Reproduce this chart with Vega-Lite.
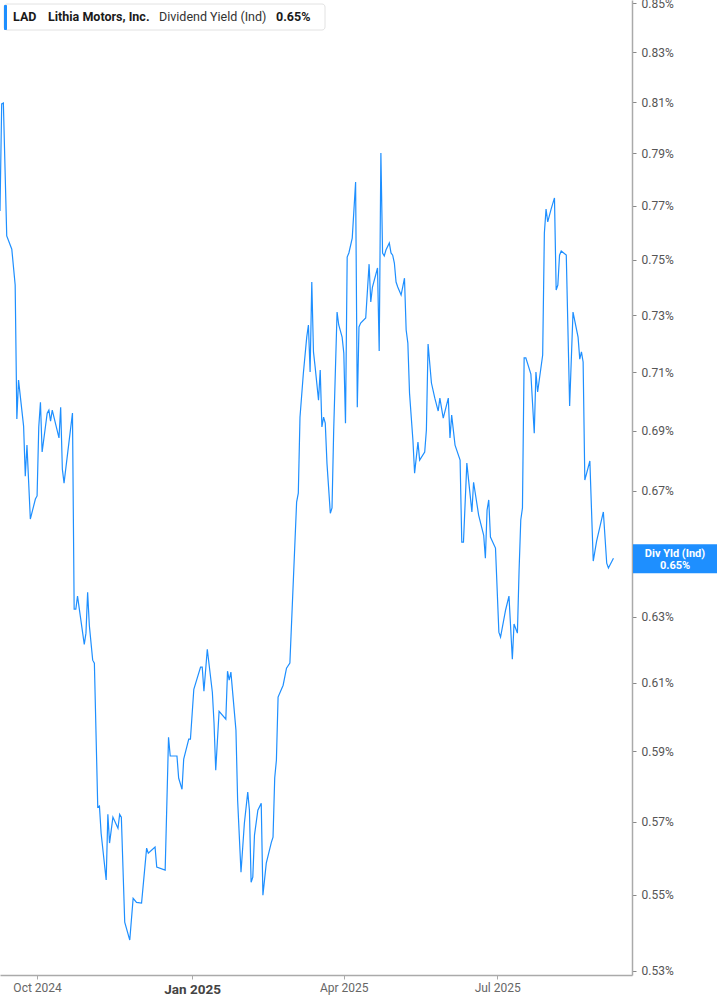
{
  "$schema": "https://vega.github.io/schema/vega-lite/v6.json",
  "width": 632,
  "height": 975,
  "autosize": {"type": "none"},
  "padding": {"left": 0, "top": 0, "right": 85, "bottom": 30},
  "background": "white",
  "config": {"font": "Roboto", "view": {"stroke": null}},
  "datasets": {
    "lad": [
      {"date": "2024-09-09", "yield": 0.7681}, {"date": "2024-09-10", "yield": 0.8093}, {"date": "2024-09-11", "yield": 0.8097},
      {"date": "2024-09-13", "yield": 0.7588}, {"date": "2024-09-16", "yield": 0.7539}, {"date": "2024-09-18", "yield": 0.7408},
      {"date": "2024-09-19", "yield": 0.6939}, {"date": "2024-09-20", "yield": 0.7072}, {"date": "2024-09-23", "yield": 0.6915},
      {"date": "2024-09-24", "yield": 0.6748}, {"date": "2024-09-25", "yield": 0.6851}, {"date": "2024-09-27", "yield": 0.6608},
      {"date": "2024-09-30", "yield": 0.6673}, {"date": "2024-10-01", "yield": 0.6683}, {"date": "2024-10-02", "yield": 0.6912},
      {"date": "2024-10-03", "yield": 0.6996}, {"date": "2024-10-04", "yield": 0.6828}, {"date": "2024-10-07", "yield": 0.6959},
      {"date": "2024-10-08", "yield": 0.6969}, {"date": "2024-10-09", "yield": 0.6932}, {"date": "2024-10-10", "yield": 0.6969},
      {"date": "2024-10-14", "yield": 0.6875}, {"date": "2024-10-15", "yield": 0.6979}, {"date": "2024-10-16", "yield": 0.6771},
      {"date": "2024-10-17", "yield": 0.6725}, {"date": "2024-10-22", "yield": 0.6959}, {"date": "2024-10-23", "yield": 0.6324},
      {"date": "2024-10-24", "yield": 0.6324}, {"date": "2024-10-25", "yield": 0.6364}, {"date": "2024-10-29", "yield": 0.6216},
      {"date": "2024-10-30", "yield": 0.6250}, {"date": "2024-10-31", "yield": 0.6376}, {"date": "2024-11-01", "yield": 0.6274},
      {"date": "2024-11-03", "yield": 0.6168}, {"date": "2024-11-04", "yield": 0.6159}, {"date": "2024-11-06", "yield": 0.5741},
      {"date": "2024-11-07", "yield": 0.5744}, {"date": "2024-11-08", "yield": 0.5668}, {"date": "2024-11-11", "yield": 0.5540},
      {"date": "2024-11-12", "yield": 0.5721}, {"date": "2024-11-13", "yield": 0.5641}, {"date": "2024-11-15", "yield": 0.5713},
      {"date": "2024-11-18", "yield": 0.5682}, {"date": "2024-11-19", "yield": 0.5721}, {"date": "2024-11-20", "yield": 0.5713},
      {"date": "2024-11-22", "yield": 0.5427}, {"date": "2024-11-25", "yield": 0.5380}, {"date": "2024-11-27", "yield": 0.5491},
      {"date": "2024-11-29", "yield": 0.5480}, {"date": "2024-12-02", "yield": 0.5478}, {"date": "2024-12-05", "yield": 0.5627},
      {"date": "2024-12-06", "yield": 0.5613}, {"date": "2024-12-10", "yield": 0.5630}, {"date": "2024-12-11", "yield": 0.5575},
      {"date": "2024-12-16", "yield": 0.5567}, {"date": "2024-12-18", "yield": 0.5940}, {"date": "2024-12-19", "yield": 0.5886},
      {"date": "2024-12-23", "yield": 0.5886}, {"date": "2024-12-24", "yield": 0.5823}, {"date": "2024-12-26", "yield": 0.5791},
      {"date": "2024-12-27", "yield": 0.5877}, {"date": "2024-12-30", "yield": 0.5935}, {"date": "2024-12-31", "yield": 0.5935},
      {"date": "2025-01-02", "yield": 0.6081}, {"date": "2025-01-06", "yield": 0.6147}, {"date": "2025-01-07", "yield": 0.6147},
      {"date": "2025-01-08", "yield": 0.6075}, {"date": "2025-01-10", "yield": 0.6201}, {"date": "2025-01-13", "yield": 0.6072},
      {"date": "2025-01-14", "yield": 0.5981}, {"date": "2025-01-15", "yield": 0.5845}, {"date": "2025-01-17", "yield": 0.6016},
      {"date": "2025-01-21", "yield": 0.5993}, {"date": "2025-01-22", "yield": 0.6135}, {"date": "2025-01-23", "yield": 0.6108},
      {"date": "2025-01-24", "yield": 0.6132}, {"date": "2025-01-27", "yield": 0.5961}, {"date": "2025-01-28", "yield": 0.5760},
      {"date": "2025-01-30", "yield": 0.5561}, {"date": "2025-02-01", "yield": 0.5696}, {"date": "2025-02-03", "yield": 0.5783},
      {"date": "2025-02-04", "yield": 0.5732}, {"date": "2025-02-05", "yield": 0.5534}, {"date": "2025-02-06", "yield": 0.5548},
      {"date": "2025-02-07", "yield": 0.5663}, {"date": "2025-02-09", "yield": 0.5732}, {"date": "2025-02-11", "yield": 0.5752},
      {"date": "2025-02-12", "yield": 0.5499}, {"date": "2025-02-14", "yield": 0.5586}, {"date": "2025-02-17", "yield": 0.5643},
      {"date": "2025-02-18", "yield": 0.5657}, {"date": "2025-02-19", "yield": 0.5823}, {"date": "2025-02-20", "yield": 0.5874},
      {"date": "2025-02-21", "yield": 0.6058}, {"date": "2025-02-24", "yield": 0.6093}, {"date": "2025-02-26", "yield": 0.6144},
      {"date": "2025-02-28", "yield": 0.6159}, {"date": "2025-03-04", "yield": 0.6663}, {"date": "2025-03-05", "yield": 0.6692},
      {"date": "2025-03-06", "yield": 0.6945}, {"date": "2025-03-08", "yield": 0.7096}, {"date": "2025-03-10", "yield": 0.7222},
      {"date": "2025-03-11", "yield": 0.7265}, {"date": "2025-03-12", "yield": 0.7100}, {"date": "2025-03-13", "yield": 0.7419},
      {"date": "2025-03-14", "yield": 0.7170}, {"date": "2025-03-15", "yield": 0.7117}, {"date": "2025-03-17", "yield": 0.7003},
      {"date": "2025-03-18", "yield": 0.7107}, {"date": "2025-03-19", "yield": 0.6912}, {"date": "2025-03-20", "yield": 0.6945},
      {"date": "2025-03-21", "yield": 0.6925}, {"date": "2025-03-22", "yield": 0.6791}, {"date": "2025-03-24", "yield": 0.6627},
      {"date": "2025-03-25", "yield": 0.6644}, {"date": "2025-03-26", "yield": 0.6902}, {"date": "2025-03-28", "yield": 0.7311},
      {"date": "2025-03-29", "yield": 0.7265}, {"date": "2025-03-31", "yield": 0.7222}, {"date": "2025-04-01", "yield": 0.7166},
      {"date": "2025-04-02", "yield": 0.6925}, {"date": "2025-04-03", "yield": 0.7510}, {"date": "2025-04-04", "yield": 0.7525},
      {"date": "2025-04-06", "yield": 0.7580}, {"date": "2025-04-08", "yield": 0.7790}, {"date": "2025-04-09", "yield": 0.6979},
      {"date": "2025-04-10", "yield": 0.7258}, {"date": "2025-04-11", "yield": 0.7272}, {"date": "2025-04-14", "yield": 0.7290},
      {"date": "2025-04-16", "yield": 0.7484}, {"date": "2025-04-17", "yield": 0.7347}, {"date": "2025-04-18", "yield": 0.7401},
      {"date": "2025-04-21", "yield": 0.7470}, {"date": "2025-04-22", "yield": 0.7173}, {"date": "2025-04-23", "yield": 0.7901},
      {"date": "2025-04-24", "yield": 0.7525}, {"date": "2025-04-25", "yield": 0.7514}, {"date": "2025-04-26", "yield": 0.7536},
      {"date": "2025-04-28", "yield": 0.7562}, {"date": "2025-04-29", "yield": 0.7525}, {"date": "2025-04-30", "yield": 0.7517},
      {"date": "2025-05-01", "yield": 0.7488}, {"date": "2025-05-02", "yield": 0.7419}, {"date": "2025-05-03", "yield": 0.7401},
      {"date": "2025-05-05", "yield": 0.7372}, {"date": "2025-05-07", "yield": 0.7433}, {"date": "2025-05-08", "yield": 0.7247},
      {"date": "2025-05-09", "yield": 0.7201}, {"date": "2025-05-10", "yield": 0.7027}, {"date": "2025-05-12", "yield": 0.6868},
      {"date": "2025-05-13", "yield": 0.6758}, {"date": "2025-05-15", "yield": 0.6861}, {"date": "2025-05-16", "yield": 0.6801},
      {"date": "2025-05-19", "yield": 0.6828}, {"date": "2025-05-20", "yield": 0.6902}, {"date": "2025-05-21", "yield": 0.7198},
      {"date": "2025-05-23", "yield": 0.7062}, {"date": "2025-05-25", "yield": 0.7010}, {"date": "2025-05-27", "yield": 0.6966},
      {"date": "2025-05-28", "yield": 0.7010}, {"date": "2025-05-30", "yield": 0.6942}, {"date": "2025-06-02", "yield": 0.7010},
      {"date": "2025-06-03", "yield": 0.6875}, {"date": "2025-06-04", "yield": 0.6952}, {"date": "2025-06-06", "yield": 0.6851},
      {"date": "2025-06-09", "yield": 0.6801}, {"date": "2025-06-10", "yield": 0.6534}, {"date": "2025-06-11", "yield": 0.6534},
      {"date": "2025-06-13", "yield": 0.6791}, {"date": "2025-06-16", "yield": 0.6631}, {"date": "2025-06-17", "yield": 0.6728},
      {"date": "2025-06-20", "yield": 0.6621}, {"date": "2025-06-23", "yield": 0.6556}, {"date": "2025-06-24", "yield": 0.6483},
      {"date": "2025-06-25", "yield": 0.6637}, {"date": "2025-06-26", "yield": 0.6670}, {"date": "2025-06-27", "yield": 0.6550},
      {"date": "2025-06-30", "yield": 0.6515}, {"date": "2025-07-02", "yield": 0.6253}, {"date": "2025-07-03", "yield": 0.6238},
      {"date": "2025-07-06", "yield": 0.6321}, {"date": "2025-07-08", "yield": 0.6364}, {"date": "2025-07-10", "yield": 0.6171},
      {"date": "2025-07-11", "yield": 0.6278}, {"date": "2025-07-13", "yield": 0.6250}, {"date": "2025-07-14", "yield": 0.6445},
      {"date": "2025-07-15", "yield": 0.6605}, {"date": "2025-07-16", "yield": 0.6644}, {"date": "2025-07-17", "yield": 0.7149},
      {"date": "2025-07-18", "yield": 0.7149}, {"date": "2025-07-21", "yield": 0.7093}, {"date": "2025-07-23", "yield": 0.6891},
      {"date": "2025-07-24", "yield": 0.7100}, {"date": "2025-07-25", "yield": 0.7031}, {"date": "2025-07-28", "yield": 0.7159},
      {"date": "2025-07-29", "yield": 0.7599}, {"date": "2025-07-30", "yield": 0.7688}, {"date": "2025-07-31", "yield": 0.7640},
      {"date": "2025-08-02", "yield": 0.7688}, {"date": "2025-08-04", "yield": 0.7730}, {"date": "2025-08-05", "yield": 0.7390},
      {"date": "2025-08-06", "yield": 0.7408}, {"date": "2025-08-07", "yield": 0.7517}, {"date": "2025-08-08", "yield": 0.7532},
      {"date": "2025-08-11", "yield": 0.7517}, {"date": "2025-08-13", "yield": 0.6983}, {"date": "2025-08-15", "yield": 0.7311},
      {"date": "2025-08-18", "yield": 0.7222}, {"date": "2025-08-19", "yield": 0.7145}, {"date": "2025-08-20", "yield": 0.7170},
      {"date": "2025-08-21", "yield": 0.7135}, {"date": "2025-08-22", "yield": 0.6735}, {"date": "2025-08-25", "yield": 0.6798},
      {"date": "2025-08-27", "yield": 0.6474}, {"date": "2025-08-29", "yield": 0.6537}, {"date": "2025-09-02", "yield": 0.6631},
      {"date": "2025-09-04", "yield": 0.6467}, {"date": "2025-09-05", "yield": 0.6452}, {"date": "2025-09-08", "yield": 0.6483}
    ]
  },
  "layer": [
    {
      "data": {"name": "lad"},
      "mark": {"type": "line", "color": "#1e8fff", "strokeWidth": 1.2},
      "encoding": {
        "x": {
          "field": "date",
          "type": "temporal",
          "scale": {
            "domain": [{"year": 2024, "month": 9, "date": 9}, {"year": 2025, "month": 9, "date": 19}],
            "nice": false
          },
          "axis": {
            "title": null,
            "grid": false,
            "values": [
              {"year": 2024, "month": 10, "date": 1},
              {"year": 2025, "month": 1, "date": 1},
              {"year": 2025, "month": 4, "date": 1},
              {"year": 2025, "month": 7, "date": 1}
            ],
            "format": "%b %Y",
            "domainColor": "#aaaaaa",
            "domainWidth": 1.5,
            "tickColor": "#aaaaaa",
            "tickSize": 4,
            "labelPadding": 3,
            "labelColor": {"condition": {"test": "month(datum.value) === 0", "value": "#444444"}, "value": "#666666"},
            "labelFontSize": {"condition": {"test": "month(datum.value) === 0", "value": 13.5}, "value": 12},
            "labelFontWeight": {"condition": {"test": "month(datum.value) === 0", "value": "bold"}, "value": "normal"}
          }
        },
        "y": {
          "field": "yield",
          "type": "quantitative",
          "scale": {"type": "log", "domain": [0.5289, 0.85145], "nice": false, "zero": false},
          "axis": {
            "orient": "right",
            "title": null,
            "grid": false,
            "values": [0.53, 0.55, 0.57, 0.59, 0.61, 0.63, 0.67, 0.69, 0.71, 0.73, 0.75, 0.77, 0.79, 0.81, 0.83, 0.85],
            "labelExpr": "format(datum.value, '.2f') + '%'",
            "domainColor": "#aaaaaa",
            "domainWidth": 1.5,
            "tickColor": "#888888",
            "tickSize": 4,
            "labelPadding": 5,
            "labelColor": "#555555",
            "labelFontSize": 12
          }
        }
      }
    },
    {
      "data": {"values": [{}]},
      "mark": {"type": "rect", "fill": "white", "stroke": "#e2e2e2", "strokeWidth": 1, "cornerRadius": 3, "xOffset": 4, "x2Offset": 325, "yOffset": 4, "y2Offset": 30},
      "encoding": {
        "x": {"datum": {"year": 2024, "month": 9, "date": 9}, "type": "temporal"},
        "x2": {"datum": {"year": 2024, "month": 9, "date": 9}},
        "y": {"datum": 0.85145, "type": "quantitative"},
        "y2": {"datum": 0.85145}
      }
    },
    {
      "data": {"values": [{}]},
      "mark": {"type": "rect", "fill": "#1e8fff", "cornerRadius": 1, "xOffset": 4, "x2Offset": 7, "yOffset": 5, "y2Offset": 30},
      "encoding": {
        "x": {"datum": {"year": 2024, "month": 9, "date": 9}, "type": "temporal"},
        "x2": {"datum": {"year": 2024, "month": 9, "date": 9}},
        "y": {"datum": 0.85145, "type": "quantitative"},
        "y2": {"datum": 0.85145}
      }
    },
    {
      "data": {"values": [{}]},
      "mark": {"type": "text", "align": "left", "baseline": "middle", "dx": 13, "dy": 17, "fontSize": 12.5, "fontWeight": "bold", "color": "#1a1a1a"},
      "encoding": {
        "x": {"datum": {"year": 2024, "month": 9, "date": 9}, "type": "temporal"},
        "y": {"datum": 0.85145, "type": "quantitative"},
        "text": {"value": "LAD"}
      }
    },
    {
      "data": {"values": [{}]},
      "mark": {"type": "text", "align": "left", "baseline": "middle", "dx": 48, "dy": 17, "fontSize": 12.5, "fontWeight": "bold", "color": "#1a1a1a"},
      "encoding": {
        "x": {"datum": {"year": 2024, "month": 9, "date": 9}, "type": "temporal"},
        "y": {"datum": 0.85145, "type": "quantitative"},
        "text": {"value": "Lithia Motors, Inc."}
      }
    },
    {
      "data": {"values": [{}]},
      "mark": {"type": "text", "align": "left", "baseline": "middle", "dx": 159, "dy": 17, "fontSize": 12.5, "color": "#333333"},
      "encoding": {
        "x": {"datum": {"year": 2024, "month": 9, "date": 9}, "type": "temporal"},
        "y": {"datum": 0.85145, "type": "quantitative"},
        "text": {"value": "Dividend Yield (Ind)"}
      }
    },
    {
      "data": {"values": [{}]},
      "mark": {"type": "text", "align": "left", "baseline": "middle", "dx": 276, "dy": 17, "fontSize": 12.5, "fontWeight": "bold", "color": "#1a1a1a"},
      "encoding": {
        "x": {"datum": {"year": 2024, "month": 9, "date": 9}, "type": "temporal"},
        "y": {"datum": 0.85145, "type": "quantitative"},
        "text": {"value": "0.65%"}
      }
    },
    {
      "data": {"name": "lad"},
      "transform": [
        {"window": [{"op": "row_number", "as": "rn"}], "sort": [{"field": "date", "order": "descending"}]},
        {"filter": "datum.rn == 1"}
      ],
      "mark": {"type": "rect", "fill": "#1e8fff", "xOffset": 1, "x2Offset": 86, "yOffset": -14, "y2Offset": 15},
      "encoding": {
        "x": {"datum": {"year": 2025, "month": 9, "date": 19}, "type": "temporal"},
        "x2": {"datum": {"year": 2025, "month": 9, "date": 19}},
        "y": {"field": "yield", "type": "quantitative"},
        "y2": {"field": "yield"}
      }
    },
    {
      "data": {"name": "lad"},
      "transform": [
        {"window": [{"op": "row_number", "as": "rn"}], "sort": [{"field": "date", "order": "descending"}]},
        {"filter": "datum.rn == 1"}
      ],
      "mark": {"type": "text", "align": "center", "baseline": "middle", "dx": 43, "dy": -4, "fontSize": 11, "fontWeight": "bold", "lineHeight": 11.5, "color": "white"},
      "encoding": {
        "x": {"datum": {"year": 2025, "month": 9, "date": 19}, "type": "temporal"},
        "y": {"field": "yield", "type": "quantitative"},
        "text": {"value": ["Div Yld (Ind)", "0.65%"]}
      }
    }
  ]
}
